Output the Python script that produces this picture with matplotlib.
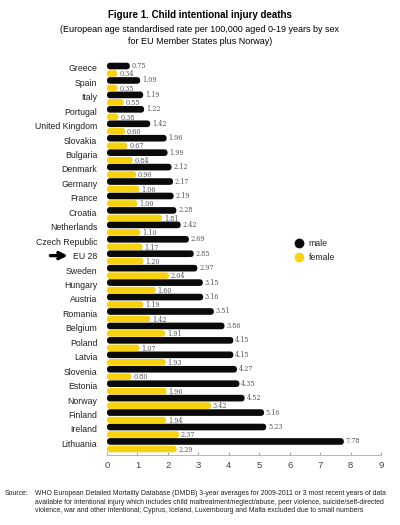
import matplotlib
matplotlib.use('Agg')
import matplotlib.pyplot as plt
from matplotlib.patches import FancyBboxPatch
from matplotlib.lines import Line2D

countries = ['Greece', 'Spain', 'Italy', 'Portugal', 'United Kingdom', 'Slovakia',
             'Bulgaria', 'Denmark', 'Germany', 'France', 'Croatia', 'Netherlands',
             'Czech Republic', 'EU 28', 'Sweden', 'Hungary', 'Austria', 'Romania',
             'Belgium', 'Poland', 'Latvia', 'Slovenia', 'Estonia', 'Norway',
             'Finland', 'Ireland', 'Lithuania']
male = [0.75, 1.09, 1.19, 1.22, 1.42, 1.96, 1.99, 2.12, 2.17, 2.19, 2.28, 2.42,
        2.69, 2.85, 2.97, 3.15, 3.16, 3.51, 3.86, 4.15, 4.15, 4.27, 4.35, 4.52,
        5.16, 5.23, 7.78]
female = [0.34, 0.35, 0.55, 0.38, 0.60, 0.67, 0.84, 0.96, 1.06, 1.00, 1.81, 1.10,
          1.17, 1.20, 2.04, 1.60, 1.19, 1.42, 1.91, 1.07, 1.93, 0.80, 1.96, 3.42,
          1.94, 2.37, 2.29]
xticks = list(range(0, 10))

BLACK = '#0a0a0a'
YELLOW = '#f7d20f'

plt.rcParams['font.family'] = ['Liberation Sans', 'DejaVu Sans']

fig = plt.figure(figsize=(4, 5.25), dpi=100)
ax = fig.add_axes([0.2675, 0.133, 0.685, 0.755])

n = len(countries)
ym = [i - 0.25 for i in range(n)]
yf = [i + 0.27 for i in range(n)]
bh = 0.46

bars_m = ax.barh(ym, male, height=bh, color=BLACK)
bars_f = ax.barh(yf, female, height=bh, color=YELLOW)

ax.set_xlim(0, 9)
ax.set_ylim(n - 0.3, -0.75)

# rounded bar ends
aspect = 2.13
for bars, col in ((bars_m, BLACK), (bars_f, YELLOW)):
    for p in bars.patches:
        x, y, w, h = p.get_x(), p.get_y(), p.get_width(), p.get_height()
        p.set_visible(False)
        r = min(h / aspect / 2, w / 2)
        fb = FancyBboxPatch((x, y), w, h,
                            boxstyle=f'round,pad=0,rounding_size={r}',
                            mutation_aspect=aspect, fc=col, ec='none')
        ax.add_patch(fb)

for i in range(n):
    ax.text(male[i] + 0.06, ym[i], f'{male[i]:.2f}', va='center', ha='left',
            fontsize=4.7, color='#555555', family='DejaVu Serif')
    ax.text(female[i] + 0.06, yf[i] + 0.05, f'{female[i]:.2f}', va='center', ha='left',
            fontsize=4.7, color='#555555', family='DejaVu Serif')

ax.set_yticks([i - 0.12 for i in range(n)])
ax.set_yticklabels(countries, fontsize=6.3, color='#222222')
ax.tick_params(axis='y', length=0, pad=7)
ax.set_xticks(xticks)
ax.set_xticklabels([str(t) for t in xticks], fontsize=6.8, color='#444444')
ax.tick_params(axis='x', direction='in', length=2.5, color='#aaaaaa', pad=4)
for s in ['top', 'right', 'left']:
    ax.spines[s].set_visible(False)
ax.spines['bottom'].set_color('#aaaaaa')
ax.spines['bottom'].set_linewidth(0.6)

# arrow pointing at EU 28
eu = countries.index('EU 28')
ax.annotate('', xy=(-1.2, eu - 0.12), xytext=(-1.95, eu - 0.12),
            xycoords='data', annotation_clip=False,
            arrowprops=dict(arrowstyle='->', color='black', lw=2.4,
                            mutation_scale=11))

# legend
for yy, col, lab in ((0.537, BLACK, 'male'), (0.510, YELLOW, 'female')):
    fig.add_artist(Line2D([0.748], [yy], marker='o', markersize=6, color=col,
                          markeredgecolor=col, transform=fig.transFigure))
    fig.text(0.772, yy, lab, fontsize=6.3, color='#222222', va='center')

fig.text(0.5, 0.965, 'Figure 1. Child intentional injury deaths', ha='center',
         fontsize=7, fontweight='bold')
fig.text(0.5, 0.94, '(European age standardised rate per 100,000 aged 0-19 years by sex',
         ha='center', fontsize=6.5)
fig.text(0.5, 0.916, 'for EU Member States plus Norway)', ha='center', fontsize=6.5)

fig.text(0.012, 0.066, 'Source:', fontsize=4.95, color='#222222', va='top')
fig.text(0.088, 0.066,
         'WHO European Detailed Mortality Database (DMDB) 3-year averages for 2009-2011 or 3 most recent years of data\n'
         'available for intentional injury which includes child maltreatment/neglect/abuse, peer violence, suicide/self-directed\n'
         'violence, war and other intentional; Cyprus, Iceland, Luxembourg and Malta excluded due to small numbers',
         fontsize=4.95, color='#222222', va='top', linespacing=1.3)

fig.savefig('out.png', dpi=100)
